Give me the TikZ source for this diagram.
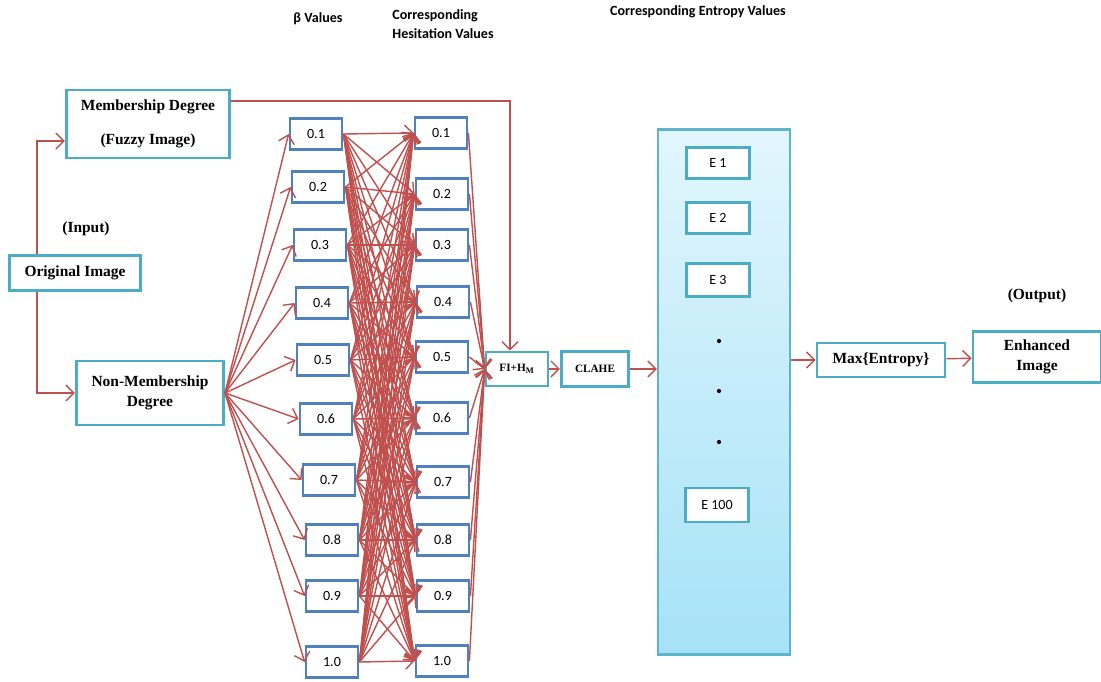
\documentclass[tikz,border=0pt]{standalone}
\usepackage{fontspec}
\setmainfont{Liberation Serif}
\newfontfamily\calib{Carlito}
\usepackage{tikz}
\usetikzlibrary{positioning,arrows.meta}
\definecolor{tealbox}{HTML}{4BACC6}
\definecolor{bluebox}{HTML}{4F81BD}
\definecolor{redline}{HTML}{C0504D}
\definecolor{paneltop}{HTML}{E2F6FD}
\definecolor{panelbot}{HTML}{A6E2F7}
\tikzset{
    tbox/.style={draw=tealbox,line width=2pt,fill=white,align=center,inner sep=1pt,
        font=\fontsize{11}{14}\selectfont\bfseries},
    bbox/.style={draw=bluebox,line width=2pt,fill=white,minimum width=1.3cm,minimum height=0.77cm,
        inner sep=0pt,font=\calib\fontsize{10}{12}\selectfont},
    ebox/.style={draw=tealbox,line width=2pt,fill=white,minimum width=1.57cm,minimum height=0.77cm,
        inner sep=0pt,font=\calib\fontsize{10}{12}\selectfont},
    arr/.style={draw=redline,line width=1pt,-{Straight Barb[length=2mm,width=4mm]}},
    head/.style={font=\calib\fontsize{10}{14}\selectfont\bfseries,align=left},
    lab/.style={font=\fontsize{11}{14}\selectfont\bfseries}
}
\begin{document}
\begin{tikzpicture}[x=0.025cm,y=-0.025cm]
    \useasboundingbox (0,0) rectangle (1101,682);

    % headers
    \node[head] (hbeta) at (318,19) {β Values};
    \node[head] (hhes) at (443,24) {Corresponding\\Hesitation Values};
    \node[head] (hent) at (698,12) {Corresponding Entropy Values};

    % input side
    \node[tbox,minimum width=3.28cm,minimum height=0.88cm] (orig) at (75,273) {Original Image};
    \node[lab] (inp) at (86,229) {(Input)};
    \node[tbox,minimum width=4.08cm,minimum height=1.7cm] (mem) at (148,124) {Membership Degree\\[10pt](Fuzzy Image)};
    \node[tbox,minimum width=3.68cm,minimum height=1.6cm] (nonmem) at (150,393) {Non-Membership\\Degree};

    \draw[arr] ([xshift=0.725cm]orig.north west) |- ([yshift=-0.425cm]mem.west);
    \draw[arr] ([xshift=0.725cm]orig.south west) |- (nonmem.west);

    % beta values and hesitation values
    \foreach \v/\x/\y [count=\i] in {0.1/316/134,0.2/318/187,0.3/320/245,0.4/322/303,0.5/323/360,
        0.6/326/419,0.7/329/480,0.8/332/540,0.9/332/596,1.0/332/662}
        \node[bbox] (b\i) at (\x,\y) {\v};
    \foreach \v/\x/\y [count=\i] in {0.1/441/133,0.2/442/194,0.3/442/245,0.4/443/302,0.5/442/357,
        0.6/442/418,0.7/443/482,0.8/443/540,0.9/443/596,1.0/442/661}
        \node[bbox] (h\i) at (\x,\y) {\v};

    \node[tbox,minimum width=1.55cm,minimum height=0.85cm,font=\fontsize{8}{10}\selectfont\bfseries] (fi) at (517,369) {FI+H\textsubscript{M}};
    \node[tbox,minimum width=1.68cm,minimum height=0.88cm,font=\fontsize{8}{10}\selectfont\bfseries] (clahe) at (595,369) {CLAHE};

    \foreach \i in {1,...,10} {
        \draw[arr] (nonmem.east) -- (b\i.west);
        \draw[arr] (h\i.east) -- (fi.west);
        \foreach \j in {1,...,10}
            \draw[arr] (b\i.east) -- (h\j.west);
    }
    \draw[arr] ([yshift=0.575cm]mem.east) -| ([xshift=-0.175cm]fi.north);
    \draw[arr] (fi) -- (clahe);

    % entropy values
    \node[draw=tealbox!90,line width=1.5pt,top color=paneltop,bottom color=panelbot,
        minimum width=3.3cm,minimum height=13.12cm] (panel) at (724,392) {};
    \node[ebox] (e1) at (718,163) {E 1};
    \node[ebox] (e2) at (718,218) {E 2};
    \node[ebox,minimum height=0.83cm] (e3) at (718,280) {E 3};
    \foreach \y [count=\k] in {341,391,442}
        \fill (719,\y) circle (1.5pt) coordinate (dot\k);
    \node[ebox,minimum height=0.85cm] (e100) at (717,505) {E 100};
    \draw[arr] (clahe.east) -- (panel.west |- clahe.east);

    % output side
    \node[tbox,minimum width=3.2cm,minimum height=0.85cm] (maxent) at (881,360) {Max\{Entropy\}};
    \node[tbox,minimum width=3.2cm,minimum height=1.28cm,text width=3cm] (enh) at (1037,357) {Enhanced\\Image};
    \node[lab] (outp) at (1037,296) {(Output)};
    \draw[arr] (panel.east |- maxent.west) -- (maxent.west);
    \draw[arr] (maxent) -- (enh);
\end{tikzpicture}
\end{document}
